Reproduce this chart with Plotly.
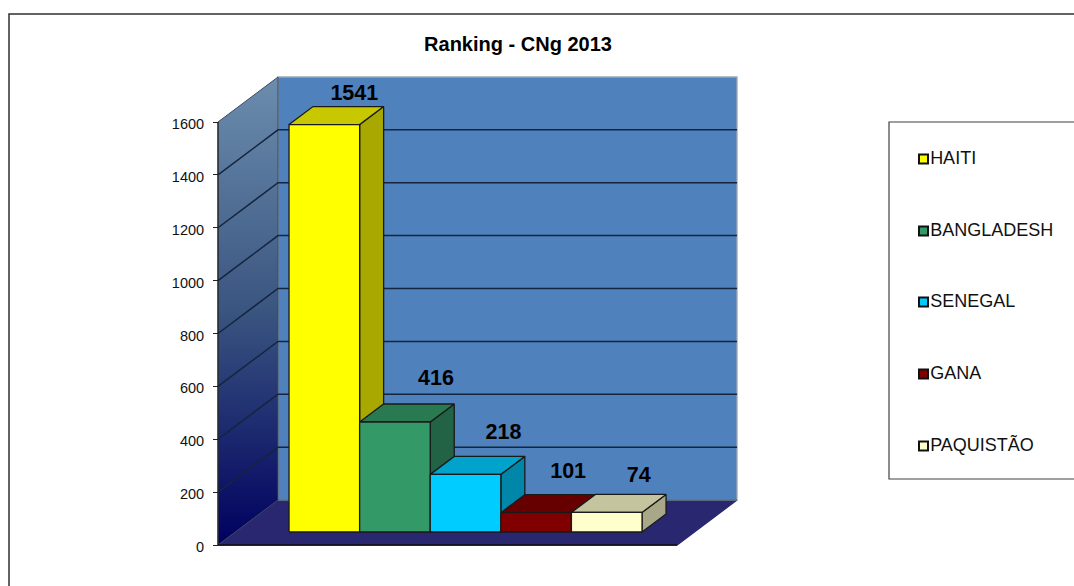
import plotly.graph_objects as go

# ---- data ----
categories = ["HAITI", "BANGLADESH", "SENEGAL", "GANA", "PAQUISTÃO"]
bar_values = [1541, 416, 218, 73, 74]      # heights as drawn in the picture
label_values = [1541, 416, 218, 101, 74]   # data labels as printed
tick_values = [0, 200, 400, 600, 800, 1000, 1200, 1400, 1600]
title_text = "Ranking - CNg 2013"

# ---- styles ----
front_colors = ["#FFFF00", "#339966", "#00CCFF", "#800000", "#FFFFCC"]
top_colors = ["#C8C800", "#297A51", "#00A3CC", "#660000", "#C4C49F"]
side_colors = ["#A8A800", "#226245", "#0086A8", "#550000", "#A8A888"]
edge = "#1A1A1A"
label_dx = [30, 41, 38, 32, 32]
label_dy = [30, 42, 41, 40, 36]

# ---- geometry (layout units = pixels horizontally) ----
W, H = 1074, 586
FLOOR_Y, TOP_Y = 545, 122
SCALE = (FLOOR_Y - TOP_Y) / 1600
VMAX = tick_values[-1]
X0, X1 = 218, 677
DX, DY = 60, 45
BAR_W = 70.6
BAR_START = 271.7
D0, D1 = 13 / 45, 31 / 45
Y_RANGE = [(FLOOR_Y - H) / SCALE, FLOOR_Y / SCALE]


def dv(px):
    return px / SCALE


def proj(x, v, d):
    return x + DX * d, v + dv(DY) * d


def poly(points, fill, line=edge, width=1.3, **kw):
    xs, ys = zip(*[proj(*p) for p in points])
    return go.Scatter(x=list(xs) + [xs[0]], y=list(ys) + [ys[0]], mode="lines",
                      fill="toself", fillcolor=fill,
                      line=dict(color=line, width=width), hoverinfo="skip",
                      showlegend=False, **kw)


def line(points, color, width=1):
    xs, ys = zip(*[proj(*p) for p in points])
    return go.Scatter(x=list(xs), y=list(ys), mode="lines",
                      line=dict(color=color, width=width), hoverinfo="skip",
                      showlegend=False)


fig = go.Figure()
# floor
fig.add_trace(poly([(X0, 0, 0), (X1, 0, 0), (X1, 0, 1), (X0, 0, 1)], "#29276F", line="#29276F"))
# back wall
fig.add_trace(poly([(X0, 0, 1), (X1, 0, 1), (X1, VMAX, 1), (X0, VMAX, 1)], "#4F81BD", line="#9CA6B4"))
# side wall with gradient
wx, wy = zip(*[proj(*p) for p in [(X0, 0, 0), (X0, 0, 1), (X0, VMAX, 1), (X0, VMAX, 0), (X0, 0, 0)]])
fig.add_trace(go.Scatter(x=list(wx), y=list(wy), mode="lines", fill="toself",
                         fillgradient=dict(type="vertical",
                                           colorscale=[[0, "#00005F"], [0.5, "#3A5580"], [1, "#6C8DAE"]]),
                         line=dict(color="#3C4A60", width=1), hoverinfo="skip", showlegend=False))
# gridlines
for t in tick_values[1:-1]:
    fig.add_trace(line([(X0, t, 0), (X0, t, 1), (X1, t, 1)], "#14253F", 1.5))
fig.add_trace(line([(X0, 0, 1), (X1, 0, 1)], "#3C4A60", 1))
# axis lines
fig.add_trace(line([(X0, 0, 0), (X0, VMAX, 0)], "#222222", 1.2))
fig.add_trace(line([(X0, 0, 0), (X1, 0, 0)], "#111111", 1.6))

# bars
for i, v in enumerate(bar_values):
    a, b = BAR_START + i * BAR_W, BAR_START + (i + 1) * BAR_W
    fig.add_trace(poly([(b, 0, D0), (b, 0, D1), (b, v, D1), (b, v, D0)], side_colors[i]))
    fig.add_trace(poly([(a, v, D0), (b, v, D0), (b, v, D1), (a, v, D1)], top_colors[i]))
    fig.add_trace(poly([(a, 0, D0), (b, 0, D0), (b, v, D0), (a, v, D0)], front_colors[i]))

# data labels
lx, ly = [], []
for i, v in enumerate(bar_values):
    cx, cy = proj(BAR_START + (i + 0.5) * BAR_W, v, D0)
    lx.append(cx + label_dx[i])
    ly.append(cy + dv(label_dy[i]))
fig.add_trace(go.Scatter(x=lx, y=ly, mode="text", text=[str(v) for v in label_values],
                         textposition="middle center", hoverinfo="skip", showlegend=False,
                         textfont=dict(family="Liberation Sans", size=21.5, color="#000000",
                                       weight="bold")))

# legend box & entries
LEG_X, LEG_ROWS = 923.5, [159, 231, 302, 374, 446]
leg_y = [(FLOOR_Y - r) / SCALE for r in LEG_ROWS]
fig.add_shape(type="rect", x0=889, x1=1100, y0=(FLOOR_Y - 122) / SCALE, y1=(FLOOR_Y - 479) / SCALE,
              line=dict(color="#404040", width=1.2), fillcolor="#FFFFFF", layer="below")
for i, c in enumerate(categories):
    fig.add_trace(go.Scatter(x=[LEG_X], y=[leg_y[i]], mode="markers+text", text=[c],
                             textposition="middle right", name=c, showlegend=False, hoverinfo="skip",
                             marker=dict(symbol="square", size=9, color=front_colors[i],
                                         line=dict(color="#111111", width=2)),
                             textfont=dict(family="Liberation Sans", size=18, color="#111111")))

# outer frame
fig.add_shape(type="rect", x0=9, x1=1200, y0=(FLOOR_Y - 14) / SCALE, y1=(FLOOR_Y - 700) / SCALE,
              line=dict(color="#303030", width=1.5), layer="below")

fig.update_layout(
    width=W, height=H, autosize=False, showlegend=False,
    margin=dict(l=0, r=0, t=0, b=0, pad=0),
    paper_bgcolor="#FFFFFF", plot_bgcolor="#FFFFFF",
    font=dict(family="Liberation Sans", color="#111111"),
    title=dict(text=f"<b>{title_text}</b>", x=518 / W, xanchor="center", y=1 - 44 / H, yanchor="middle",
               font=dict(family="Liberation Sans", size=20, color="#000000")),
    xaxis=dict(range=[0, W], visible=False, fixedrange=True),
    yaxis=dict(range=Y_RANGE, anchor="free", position=X0 / W, side="left",
               tickmode="array", tickvals=tick_values, ticktext=[str(t) for t in tick_values],
               ticks="outside", ticklen=5, tickcolor="#222222", tickwidth=1.2,
               tickfont=dict(family="Liberation Sans", size=14.5, color="#111111"),
               showgrid=False, zeroline=False, showline=False, fixedrange=True,
               ticklabelstandoff=6, ticklabelshift=2),
)
fig.write_html("out.html", config={"displayModeBar": False},
               post_script="document.body.style.margin='0';document.body.style.overflow='hidden';")
